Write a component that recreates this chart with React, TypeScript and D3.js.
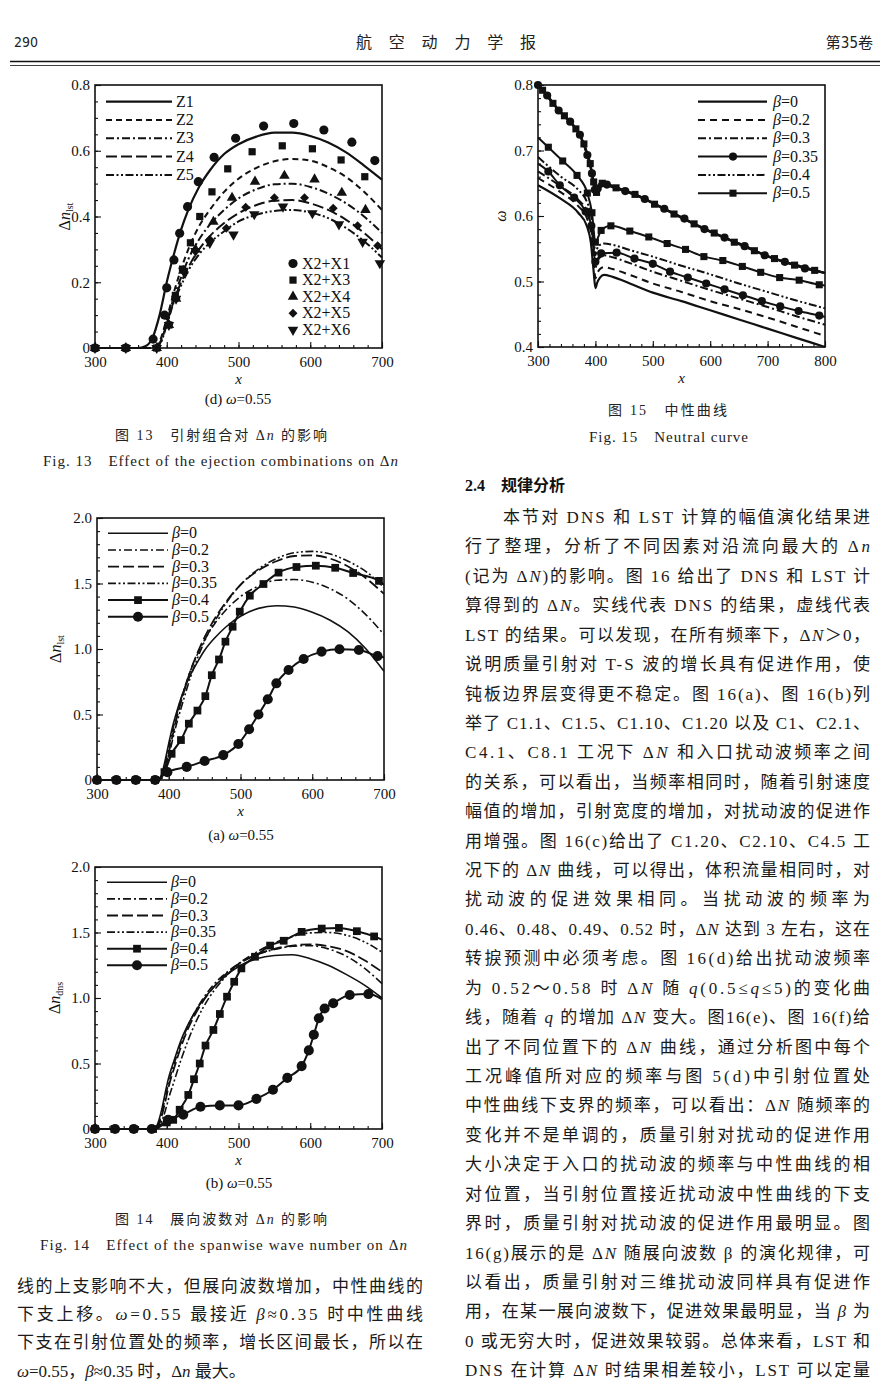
import React, { useEffect, useRef } from 'react';
import * as d3 from 'd3';

// ---------- Fig. 13 data (LST lines Z1..Z5, DNS symbols) ----------
const fig13LineX = [300, 360, 370, 380, 390, 400, 410, 420, 430, 445, 460, 480, 500, 525, 550, 575, 600, 625, 650, 675, 700];
const z1 = [0, 0, 0.005, 0.03, 0.1, 0.2, 0.285, 0.36, 0.42, 0.49, 0.54, 0.59, 0.62, 0.643, 0.655, 0.655, 0.645, 0.625, 0.595, 0.555, 0.512];
const z2 = [0, 0, 0, 0, 0.02, 0.09, 0.17, 0.24, 0.3, 0.37, 0.42, 0.475, 0.515, 0.548, 0.568, 0.575, 0.57, 0.55, 0.52, 0.475, 0.42];
const z3 = [0, 0, 0, 0, 0.015, 0.08, 0.155, 0.215, 0.27, 0.33, 0.375, 0.42, 0.455, 0.483, 0.498, 0.5, 0.49, 0.47, 0.44, 0.4, 0.35];
const z4 = [0, 0, 0, 0, 0.012, 0.075, 0.145, 0.2, 0.245, 0.3, 0.34, 0.38, 0.41, 0.435, 0.448, 0.45, 0.44, 0.42, 0.39, 0.35, 0.3];
const z5 = [0, 0, 0, 0, 0.01, 0.07, 0.14, 0.19, 0.235, 0.285, 0.32, 0.355, 0.385, 0.405, 0.417, 0.42, 0.412, 0.395, 0.365, 0.325, 0.275];

const x2x1X = [300, 343, 381, 397, 400, 410, 418, 429, 444, 466, 496, 535, 577, 619, 658, 690];
const x2x1Y = [0, 0, 0.027, 0.1, 0.183, 0.268, 0.349, 0.43, 0.506, 0.58, 0.638, 0.675, 0.683, 0.663, 0.626, 0.57];
const x2x3X = [300, 343, 386, 403, 412, 422, 433, 446, 463, 485, 519, 561, 603, 643, 676];
const x2x3Y = [0, 0, 0, 0.07, 0.16, 0.24, 0.32, 0.4, 0.475, 0.545, 0.597, 0.615, 0.606, 0.572, 0.521];
const x2x4X = [300, 343, 386, 403, 413, 423, 440, 465, 491, 523, 564, 606, 644, 677];
const x2x4Y = [0, 0, 0, 0.07, 0.15, 0.235, 0.3, 0.384, 0.457, 0.506, 0.524, 0.513, 0.472, 0.42];
const x2x5X = [300, 343, 386, 403, 413, 423, 440, 460, 483, 510, 550, 592, 632, 666, 694];
const x2x5Y = [0, 0, 0, 0.073, 0.15, 0.235, 0.295, 0.33, 0.364, 0.428, 0.457, 0.457, 0.425, 0.372, 0.311];
const x2x6X = [300, 343, 386, 403, 413, 423, 440, 460, 493, 522, 562, 603, 640, 673, 697];
const x2x6Y = [0, 0, 0, 0.07, 0.15, 0.235, 0.295, 0.32, 0.345, 0.407, 0.43, 0.41, 0.376, 0.323, 0.258];

// ---------- Fig. 15 data (neutral curve, lower and upper branches) ----------
const fig15LowX = [300, 340, 370, 385, 392, 397, 400, 403, 408, 415, 430, 460, 500, 550, 600, 650, 700, 750, 800];
const nb0 = [0.647, 0.626, 0.605, 0.585, 0.56, 0.515, 0.49, 0.498, 0.506, 0.51, 0.507, 0.497, 0.483, 0.47, 0.456, 0.442, 0.428, 0.414, 0.4];
const nb02 = [0.658, 0.636, 0.615, 0.597, 0.575, 0.535, 0.505, 0.512, 0.519, 0.522, 0.519, 0.51, 0.497, 0.484, 0.47, 0.458, 0.445, 0.431, 0.417];
const nb03 = [0.668, 0.645, 0.625, 0.607, 0.587, 0.55, 0.52, 0.53, 0.537, 0.54, 0.537, 0.528, 0.515, 0.501, 0.487, 0.474, 0.461, 0.447, 0.434];
const nb04 = [0.69, 0.66, 0.64, 0.622, 0.603, 0.57, 0.54, 0.55, 0.556, 0.558, 0.556, 0.548, 0.538, 0.524, 0.511, 0.497, 0.484, 0.471, 0.459];
const nb035X = [300, 318, 338, 363, 383, 393, 400, 410, 437, 468, 500, 530, 561, 593, 625, 657, 690, 722, 754, 790, 800];
const nb035 = [0.68, 0.668, 0.647, 0.628, 0.607, 0.585, 0.53, 0.543, 0.544, 0.535, 0.527, 0.515, 0.506, 0.497, 0.488, 0.479, 0.47, 0.462, 0.455, 0.448, 0.446];
const nb05X = [300, 318, 343, 368, 386, 394, 400, 410, 427, 460, 493, 525, 557, 589, 622, 656, 688, 721, 755, 790, 800];
const nb05 = [0.72, 0.705, 0.684, 0.662, 0.635, 0.605, 0.56, 0.578, 0.585, 0.577, 0.568, 0.558, 0.549, 0.538, 0.532, 0.523, 0.514, 0.506, 0.502, 0.495, 0.494];
const upX = [300, 320, 338, 355, 372, 384, 393, 399, 403, 407, 436, 471, 518, 558, 605, 651, 710, 760, 800];
const upY = [0.8, 0.78, 0.759, 0.744, 0.726, 0.698, 0.67, 0.64, 0.637, 0.65, 0.642, 0.632, 0.612, 0.594, 0.574, 0.558, 0.535, 0.523, 0.513];
const up035X = [300, 316, 336, 356, 373, 386, 394, 399, 404, 420, 452, 486, 520, 555, 590, 625, 660, 695, 730, 765, 800];
const up035 = [0.8, 0.784, 0.761, 0.744, 0.724, 0.693, 0.665, 0.64, 0.642, 0.648, 0.638, 0.626, 0.611, 0.596, 0.58, 0.567, 0.554, 0.54, 0.53, 0.52, 0.513];
const up05X = [300, 308, 326, 346, 366, 380, 391, 397, 402, 412, 436, 469, 503, 537, 572, 607, 642, 677, 712, 747, 782, 800];
const up05 = [0.8, 0.792, 0.772, 0.753, 0.733, 0.71, 0.68, 0.652, 0.636, 0.65, 0.643, 0.633, 0.618, 0.603, 0.588, 0.574, 0.56, 0.547, 0.535, 0.525, 0.517, 0.513];

// ---------- Fig. 14(a) data (LST) ----------
const f14aX = [300, 385, 390, 395, 400, 405, 410, 420, 430, 440, 450, 465, 480, 500, 525, 550, 575, 600, 625, 650, 675, 700];
const a0 = [0, 0, 0.04, 0.15, 0.28, 0.4, 0.5, 0.67, 0.8, 0.9, 0.99, 1.09, 1.17, 1.25, 1.31, 1.33, 1.32, 1.28, 1.22, 1.13, 1.0, 0.83];
const a02 = [0, 0, 0.03, 0.13, 0.25, 0.37, 0.48, 0.67, 0.83, 0.96, 1.07, 1.2, 1.3, 1.4, 1.48, 1.525, 1.53, 1.51, 1.46, 1.38, 1.26, 1.11];
const a03 = [0, 0, 0.02, 0.1, 0.21, 0.33, 0.45, 0.65, 0.83, 0.97, 1.09, 1.24, 1.36, 1.49, 1.6, 1.67, 1.71, 1.715, 1.69, 1.63, 1.54, 1.42];
const a035 = [0, 0, 0.01, 0.08, 0.18, 0.3, 0.41, 0.6, 0.78, 0.93, 1.06, 1.22, 1.35, 1.49, 1.61, 1.69, 1.735, 1.745, 1.725, 1.67, 1.59, 1.47];
const a04X = [300, 327, 354, 381, 394, 404, 417, 428, 440, 451, 460, 470, 479, 489, 499, 513, 532, 553, 578, 605, 632, 657, 693, 700];
const a04 = [0, 0, 0, 0, 0.06, 0.2, 0.305, 0.43, 0.53, 0.64, 0.8, 0.92, 1.056, 1.17, 1.285, 1.407, 1.496, 1.583, 1.626, 1.636, 1.62, 1.58, 1.52, 1.49];
const a05X = [300, 327, 354, 381, 398, 425, 450, 476, 497, 512, 525, 538, 550, 567, 588, 613, 638, 665, 691, 700];
const a05 = [0, 0, 0, 0, 0.06, 0.1, 0.145, 0.19, 0.275, 0.387, 0.5, 0.616, 0.738, 0.84, 0.924, 0.98, 0.998, 0.992, 0.946, 0.935];

// ---------- Fig. 14(b) data (DNS) ----------
const f14bX = [300, 383, 388, 393, 398, 403, 410, 420, 430, 440, 450, 465, 480, 500, 525, 550, 575, 600, 625, 650, 675, 700];
const b0 = [0, 0, 0.05, 0.15, 0.28, 0.4, 0.52, 0.68, 0.8, 0.9, 0.98, 1.08, 1.16, 1.24, 1.3, 1.325, 1.33, 1.3, 1.25, 1.18, 1.1, 1.0];
const b02 = [0, 0, 0.03, 0.12, 0.24, 0.36, 0.49, 0.66, 0.79, 0.9, 0.99, 1.1, 1.18, 1.26, 1.33, 1.37, 1.395, 1.4, 1.375, 1.32, 1.23, 1.11];
const b03 = [0, 0, 0.02, 0.1, 0.21, 0.33, 0.46, 0.63, 0.77, 0.88, 0.97, 1.08, 1.17, 1.26, 1.33, 1.375, 1.4, 1.41, 1.395, 1.36, 1.29, 1.2];
const b035 = [0, 0, 0.01, 0.06, 0.14, 0.24, 0.36, 0.53, 0.68, 0.81, 0.92, 1.05, 1.15, 1.26, 1.35, 1.42, 1.47, 1.497, 1.5, 1.48, 1.43, 1.35];
const b04X = [300, 327, 354, 381, 400, 409, 418, 430, 438, 446, 454, 465, 474, 484, 494, 504, 523, 544, 563, 588, 616, 640, 665, 689, 700];
const b04 = [0, 0, 0, 0, 0.05, 0.07, 0.147, 0.26, 0.38, 0.5, 0.637, 0.756, 0.878, 1.01, 1.124, 1.226, 1.315, 1.4, 1.437, 1.505, 1.53, 1.535, 1.51, 1.47, 1.445];
const b05X = [300, 328, 354, 379, 402, 423, 447, 474, 500, 525, 548, 568, 588, 598, 605, 612, 620, 632, 655, 681, 700];
const b05 = [0, 0, 0, 0, 0.07, 0.11, 0.17, 0.18, 0.18, 0.23, 0.3, 0.39, 0.48, 0.6, 0.72, 0.845, 0.92, 0.96, 1.023, 1.03, 0.99];

// ---------- labels ----------
const zLabels = ['Z1', 'Z2', 'Z3', 'Z4', 'Z5'];
const xLabels = ['X2+X1', 'X2+X3', 'X2+X4', 'X2+X5', 'X2+X6'];
const betaLabels = ['*β*=0', '*β*=0.2', '*β*=0.3', '*β*=0.35', '*β*=0.4', '*β*=0.5'];

const rightLines = [
  '本节对 DNS 和 LST 计算的幅值演化结果进',
  '行了整理，分析了不同因素对沿流向最大的 Δ*n*',
  '(记为 Δ*N*)的影响。图 16 给出了 DNS 和 LST 计',
  '算得到的 Δ*N*。实线代表 DNS 的结果，虚线代表',
  'LST 的结果。可以发现，在所有频率下，Δ*N*＞0，',
  '说明质量引射对 T-S 波的增长具有促进作用，使',
  '钝板边界层变得更不稳定。图 16(a)、图 16(b)列',
  '举了 C1.1、C1.5、C1.10、C1.20 以及 C1、C2.1、',
  'C4.1、C8.1 工况下 Δ*N* 和入口扰动波频率之间',
  '的关系，可以看出，当频率相同时，随着引射速度',
  '幅值的增加，引射宽度的增加，对扰动波的促进作',
  '用增强。图 16(c)给出了 C1.20、C2.10、C4.5 工',
  '况下的 Δ*N* 曲线，可以得出，体积流量相同时，对',
  '扰动波的促进效果相同。当扰动波的频率为',
  '0.46、0.48、0.49、0.52 时，Δ*N* 达到 3 左右，这在',
  '转捩预测中必须考虑。图 16(d)给出扰动波频率',
  '为 0.52～0.58 时 Δ*N* 随 *q*(0.5≤*q*≤5)的变化曲',
  '线，随着 *q* 的增加 Δ*N* 变大。图16(e)、图 16(f)给',
  '出了不同位置下的 Δ*N* 曲线，通过分析图中每个',
  '工况峰值所对应的频率与图 5(d)中引射位置处',
  '中性曲线下支界的频率，可以看出：Δ*N* 随频率的',
  '变化并不是单调的，质量引射对扰动的促进作用',
  '大小决定于入口的扰动波的频率与中性曲线的相',
  '对位置，当引射位置接近扰动波中性曲线的下支',
  '界时，质量引射对扰动波的促进作用最明显。图',
  '16(g)展示的是 Δ*N* 随展向波数 β 的演化规律，可',
  '以看出，质量引射对三维扰动波同样具有促进作',
  '用，在某一展向波数下，促进效果最明显，当 *β* 为',
  '0 或无穷大时，促进效果较弱。总体来看，LST 和',
  'DNS 在计算 Δ*N* 时结果相差较小，LST 可以定量',
];
const leftLines = [
  '线的上支影响不大，但展向波数增加，中性曲线的',
  '下支上移。*ω*=0.55 最接近 *β*≈0.35 时中性曲线',
  '下支在引射位置处的频率，增长区间最长，所以在',
  '*ω*=0.55，*β*≈0.35 时，Δ*n* 最大。',
];

const SERIF = '"Liberation Serif", "Times New Roman", serif';
const MIXED = '"Liberation Serif", "Noto Sans CJK SC", serif';

const DASH = '6,4';
const DASHDOT = '8,3,2,3';
const LONGDASH = '11,4';
const DASHDOT2 = '8,2.5,2,2.5,2,2.5';

type Mark = 'circle' | 'square' | 'triangle' | 'diamond' | 'down';
interface Series {
  x: number[];
  y: number[];
  dash?: string;
  width?: number;
  mark?: Mark;
  size?: number;
  line?: boolean;
  bare?: 'first' | 'last' | 'both';
}
interface Legend {
  x0: number; x1: number; tx: number; y0: number; dy: number; mx?: number;
  items: { label: string; s: Series }[];
  lineless?: boolean; fontSize?: number;
}
interface Plot {
  left: number; top: number; width: number; height: number;
  xDomain: [number, number]; yDomain: [number, number];
  xTicks: number[]; yTicks: number[]; xMinor: number[]; yMinor: number[];
  yFmt: (v: number) => string;
  series: Series[];
  legends: Legend[];
  yLabel: { x: number; base: string; italic: boolean; sub?: string };
  sub: { text: string; x: number; y: number };
}

const rich = (sel: any, str: string) => {
  str.split('*').forEach((seg, i) => {
    if (!seg) return;
    const t = sel.append('tspan').text(seg);
    if (i % 2 === 1) t.attr('font-style', 'italic');
  });
};

const markPath = (m: Mark, size: number) => {
  const t = m === 'circle' ? d3.symbolCircle : m === 'square' || m === 'diamond' ? d3.symbolSquare : d3.symbolTriangle;
  return d3.symbol().type(t).size(size)() as string;
};
const markRot = (m: Mark) => (m === 'diamond' ? 45 : m === 'down' ? 180 : 0);

function drawPlot(svg: any, p: Plot) {
  const x = d3.scaleLinear().domain(p.xDomain).range([p.left, p.left + p.width]);
  const y = d3.scaleLinear().domain(p.yDomain).range([p.top + p.height, p.top]);
  const g = svg.append('g');
  const bottom = p.top + p.height;

  // minor + major ticks, pointing inward
  const styleAxis = (ax: any) => {
    ax.select('.domain').remove();
    ax.selectAll('line').attr('stroke', '#111').attr('stroke-width', 1.1);
    ax.attr('font-family', SERIF).attr('font-size', 15);
    ax.selectAll('text').attr('fill', '#111');
  };
  styleAxis(g.append('g').attr('transform', `translate(0,${bottom})`)
    .call(d3.axisBottom(x).tickValues(p.xMinor).tickSize(-3).tickFormat(() => '')));
  styleAxis(g.append('g').attr('transform', `translate(${p.left},0)`)
    .call(d3.axisLeft(y).tickValues(p.yMinor).tickSize(-3).tickFormat(() => '')));
  styleAxis(g.append('g').attr('transform', `translate(0,${bottom})`)
    .call(d3.axisBottom(x).tickValues(p.xTicks).tickSize(-6).tickPadding(8).tickFormat(d3.format('d') as any)));
  styleAxis(g.append('g').attr('transform', `translate(${p.left},0)`)
    .call(d3.axisLeft(y).tickValues(p.yTicks).tickSize(-6).tickPadding(5).tickFormat(p.yFmt as any)));

  const drawSeries = (s: Series) => {
    const pts: [number, number][] = s.x.map((v, i) => [x(v), y(s.y[i])]);
    if (s.line !== false) {
      g.append('path')
        .attr('d', d3.line().curve(d3.curveMonotoneX)(pts))
        .attr('fill', 'none')
        .attr('stroke', '#111')
        .attr('stroke-width', s.width ?? 2)
        .attr('stroke-dasharray', s.dash ?? null)
        .attr('stroke-linejoin', 'round');
    }
    if (s.mark) {
      const path = markPath(s.mark, s.size ?? 60);
      pts.forEach((pt, i) => {
        if ((s.bare === 'first' || s.bare === 'both') && i === 0) return;
        if ((s.bare === 'last' || s.bare === 'both') && i === pts.length - 1) return;
        g.append('path').attr('d', path).attr('fill', '#111')
          .attr('transform', `translate(${pt[0]},${pt[1]}) rotate(${markRot(s.mark as Mark)})`);
      });
    }
  };
  p.series.forEach(drawSeries);

  // frame
  g.append('rect').attr('x', p.left).attr('y', p.top).attr('width', p.width).attr('height', p.height)
    .attr('fill', 'none').attr('stroke', '#111').attr('stroke-width', 1.6);

  // legends
  p.legends.forEach((lg) => {
    lg.items.forEach((it, i) => {
      const yy = lg.y0 + i * lg.dy;
      if (!lg.lineless) {
        g.append('line').attr('x1', lg.x0).attr('x2', lg.x1).attr('y1', yy).attr('y2', yy)
          .attr('stroke', '#111').attr('stroke-width', it.s.width ?? 2)
          .attr('stroke-dasharray', it.s.dash ?? null);
      }
      if (it.s.mark) {
        const mx = lg.lineless ? lg.x0 : lg.mx ?? (lg.x0 + lg.x1) / 2;
        g.append('path').attr('d', markPath(it.s.mark, it.s.size ?? 60)).attr('fill', '#111')
          .attr('transform', `translate(${mx},${yy}) rotate(${markRot(it.s.mark)})`);
      }
      const t = g.append('text').attr('x', lg.tx).attr('y', yy + 5)
        .attr('font-family', SERIF).attr('font-size', lg.fontSize ?? 15).attr('fill', '#111');
      rich(t, it.label);
    });
  });

  // axis titles
  g.append('text').attr('x', p.left + p.width / 2).attr('y', bottom + 36)
    .attr('text-anchor', 'middle').attr('font-family', SERIF).attr('font-size', 15)
    .attr('font-style', 'italic').attr('fill', '#111').text('x');
  const yl = g.append('text')
    .attr('transform', `translate(${p.yLabel.x},${p.top + p.height / 2}) rotate(-90)`)
    .attr('text-anchor', 'middle').attr('font-family', SERIF).attr('font-size', 16).attr('fill', '#111');
  if (p.yLabel.italic) {
    yl.append('tspan').attr('font-style', 'italic').text(p.yLabel.base);
  } else {
    yl.append('tspan').text('Δ');
    yl.append('tspan').attr('font-style', 'italic').text('n');
  }
  if (p.yLabel.sub) yl.append('tspan').attr('font-size', 10).attr('dy', 3).text(p.yLabel.sub);

  if (p.sub.text) {
    const st = g.append('text').attr('x', p.sub.x).attr('y', p.sub.y).attr('text-anchor', 'middle')
      .attr('font-family', SERIF).attr('font-size', 15).attr('fill', '#111');
    rich(st, p.sub.text);
  }
}

const fmtZero1 = (v: number) => (v === 0 ? '0' : d3.format('.1f')(v));

const App = () => {
  const svgRef = useRef<SVGSVGElement>(null);

  useEffect(() => {
    if (!svgRef.current) return;
    const svg = d3.select(svgRef.current);
    svg.selectAll('*').remove();

    // ----- page header -----
    svg.append('text').attr('x', 14).attr('y', 47).attr('font-family', '"DejaVu Sans Condensed", "Liberation Sans Narrow", sans-serif')
      .attr('font-size', 14).attr('fill', '#222').text('290');
    svg.append('text').attr('x', 356).attr('y', 48).attr('textLength', 180).attr('lengthAdjust', 'spacing')
      .attr('font-family', '"Noto Sans CJK SC", sans-serif').attr('font-size', 16).attr('fill', '#222').text('航空动力学报');
    svg.append('text').attr('x', 873).attr('y', 48).attr('text-anchor', 'end')
      .attr('font-family', '"DejaVu Sans Condensed", "Noto Sans CJK SC", sans-serif').attr('font-size', 15).attr('fill', '#222').text('第35卷');
    svg.append('line').attr('x1', 10).attr('x2', 880).attr('y1', 61.5).attr('y2', 61.5).attr('stroke', '#111').attr('stroke-width', 1.6);
    svg.append('line').attr('x1', 10).attr('x2', 880).attr('y1', 65.5).attr('y2', 65.5).attr('stroke', '#111').attr('stroke-width', 0.8);

    // ----- Fig. 13 -----
    const s13 = [
      { x: fig13LineX, y: z1, width: 2.2 },
      { x: fig13LineX, y: z2, dash: DASH },
      { x: fig13LineX, y: z3, dash: DASHDOT },
      { x: fig13LineX, y: z4, dash: LONGDASH },
      { x: fig13LineX, y: z5, dash: DASHDOT2 },
    ] as Series[];
    const m13 = [
      { x: x2x1X, y: x2x1Y, mark: 'circle', size: 66, line: false },
      { x: x2x3X, y: x2x3Y, mark: 'square', size: 52, line: false },
      { x: x2x4X, y: x2x4Y, mark: 'triangle', size: 48, line: false },
      { x: x2x5X, y: x2x5Y, mark: 'diamond', size: 40, line: false },
      { x: x2x6X, y: x2x6Y, mark: 'down', size: 48, line: false },
    ] as Series[];
    drawPlot(svg, {
      left: 95, top: 85, width: 287, height: 263,
      xDomain: [300, 700], yDomain: [0, 0.8],
      xTicks: d3.range(300, 701, 100), yTicks: [0, 0.2, 0.4, 0.6, 0.8],
      xMinor: d3.range(300, 701, 20), yMinor: d3.range(0, 0.801, 0.05),
      yFmt: fmtZero1,
      series: [...s13, ...m13],
      legends: [
        { x0: 106, x1: 172, tx: 176, y0: 101.7, dy: 18.3, items: s13.map((s, i) => ({ label: zLabels[i], s })), fontSize: 16 },
        { x0: 293, x1: 293, tx: 302, y0: 263.5, dy: 16.6, lineless: true, items: m13.map((s, i) => ({ label: xLabels[i], s })), fontSize: 16 },
      ],
      yLabel: { x: 70, base: 'n', italic: false, sub: 'lst' },
      sub: { text: '(d) *ω*=0.55', x: 238, y: 404 },
    });

    // ----- Fig. 15 -----
    const s15 = [
      { x: fig15LowX, y: nb0, width: 2.2 },
      { x: fig15LowX, y: nb02, dash: '7,5' },
      { x: fig15LowX, y: nb03, dash: DASHDOT },
      { x: nb035X, y: nb035, mark: 'circle', size: 52, bare: 'both' },
      { x: fig15LowX, y: nb04, dash: DASHDOT2 },
      { x: nb05X, y: nb05, mark: 'square', size: 50, bare: 'both' },
    ] as Series[];
    const up15 = [
      { x: upX, y: upY, width: 2.2 },
      { x: up035X, y: up035, mark: 'circle', size: 52, bare: 'last', width: 2.2 },
      { x: up05X, y: up05, mark: 'square', size: 50, bare: 'both', width: 2.2 },
    ] as Series[];
    drawPlot(svg, {
      left: 538, top: 85, width: 287, height: 262,
      xDomain: [300, 800], yDomain: [0.4, 0.8],
      xTicks: d3.range(300, 801, 100), yTicks: [0.4, 0.5, 0.6, 0.7, 0.8],
      xMinor: d3.range(300, 801, 20), yMinor: d3.range(0.4, 0.801, 0.02),
      yFmt: (v) => d3.format('.1f')(v),
      series: [...up15, ...s15],
      legends: [
        { x0: 698, x1: 767, tx: 773, y0: 101.7, dy: 18.3, mx: 733, items: s15.map((s, i) => ({ label: betaLabels[i], s })), fontSize: 16 },
      ],
      yLabel: { x: 506, base: 'ω', italic: true },
      sub: { text: '', x: 0, y: 0 },
    });

    // ----- Fig. 14(a) -----
    const s14a = [
      { x: f14aX, y: a0, width: 1.6 },
      { x: f14aX, y: a02, dash: DASHDOT, width: 1.6 },
      { x: f14aX, y: a03, dash: LONGDASH, width: 1.8 },
      { x: f14aX, y: a035, dash: DASHDOT2, width: 1.6 },
      { x: a04X, y: a04, mark: 'square', size: 60, bare: 'last' },
      { x: a05X, y: a05, mark: 'circle', size: 80, bare: 'last' },
    ] as Series[];
    drawPlot(svg, {
      left: 97, top: 518, width: 287, height: 262,
      xDomain: [300, 700], yDomain: [0, 2],
      xTicks: d3.range(300, 701, 100), yTicks: [0, 0.5, 1, 1.5, 2],
      xMinor: d3.range(300, 701, 20), yMinor: d3.range(0, 2.01, 0.1),
      yFmt: fmtZero1,
      series: s14a,
      legends: [
        { x0: 108, x1: 168, tx: 172, y0: 533.3, dy: 16.7, mx: 138, items: s14a.map((s, i) => ({ label: betaLabels[i], s })), fontSize: 16 },
      ],
      yLabel: { x: 61, base: 'n', italic: false, sub: 'lst' },
      sub: { text: '(a) *ω*=0.55', x: 241, y: 840 },
    });

    // ----- Fig. 14(b) -----
    const s14b = [
      { x: f14bX, y: b0, width: 1.6 },
      { x: f14bX, y: b02, dash: DASHDOT, width: 1.6 },
      { x: f14bX, y: b03, dash: LONGDASH, width: 1.8 },
      { x: f14bX, y: b035, dash: DASHDOT2, width: 1.6 },
      { x: b04X, y: b04, mark: 'square', size: 60, bare: 'last' },
      { x: b05X, y: b05, mark: 'circle', size: 80, bare: 'last' },
    ] as Series[];
    drawPlot(svg, {
      left: 95, top: 867, width: 287, height: 262,
      xDomain: [300, 700], yDomain: [0, 2],
      xTicks: d3.range(300, 701, 100), yTicks: [0, 0.5, 1, 1.5, 2],
      xMinor: d3.range(300, 701, 20), yMinor: d3.range(0, 2.01, 0.1),
      yFmt: fmtZero1,
      series: s14b,
      legends: [
        { x0: 107, x1: 167, tx: 171, y0: 882.3, dy: 16.6, mx: 137, items: s14b.map((s, i) => ({ label: betaLabels[i], s })), fontSize: 16 },
      ],
      yLabel: { x: 60, base: 'n', italic: false, sub: 'dns' },
      sub: { text: '(b) *ω*=0.55', x: 239, y: 1188 },
    });

    // ----- captions -----
    const caption = (str: string, x: number, y: number, len: number, size: number) => {
      const t = svg.append('text').attr('x', x).attr('y', y).attr('textLength', len).attr('lengthAdjust', 'spacing')
        .attr('font-family', MIXED).attr('font-size', size).attr('fill', '#222');
      rich(t, str);
    };
    caption('图 13　引射组合对 Δ*n* 的影响', 115, 440, 212, 14);
    caption('Fig. 13　Effect of the ejection combinations on Δ*n*', 43, 466, 355, 15);
    caption('图 15　中性曲线', 608, 415, 119, 14);
    caption('Fig. 15　Neutral curve', 589, 442, 159, 15);
    caption('图 14　展向波数对 Δ*n* 的影响', 115, 1224, 212, 14);
    caption('Fig. 14　Effect of the spanwise wave number on Δ*n*', 40, 1250, 367, 15);

    // ----- body text -----
    svg.append('text').attr('x', 465).attr('y', 491).attr('font-family', '"Liberation Serif", "Noto Sans CJK SC", sans-serif')
      .attr('font-weight', 'bold').attr('font-size', 16).attr('fill', '#111').text('2.4　规律分析');
    rightLines.forEach((str, i) => {
      const x0 = i === 0 ? 503 : 465;
      const t = svg.append('text').attr('x', x0).attr('y', 523 + i * 29.42)
        .attr('textLength', 870 - x0).attr('lengthAdjust', 'spacing')
        .attr('font-family', MIXED).attr('font-size', 17).attr('fill', '#1a1a1a');
      rich(t, str);
    });
    leftLines.forEach((str, i) => {
      const t = svg.append('text').attr('x', 17).attr('y', 1291.5 + i * 28.35)
        .attr('font-family', MIXED).attr('font-size', 17).attr('fill', '#1a1a1a');
      if (i < leftLines.length - 1) t.attr('textLength', 406).attr('lengthAdjust', 'spacing');
      rich(t, str);
    });
  }, []);

  return (
    <div style={{ position: 'absolute', left: 0, top: 0 }}>
      <svg ref={svgRef} width={890} height={1398} style={{ display: 'block', background: '#fff' }} />
    </div>
  );
};

export default App;
